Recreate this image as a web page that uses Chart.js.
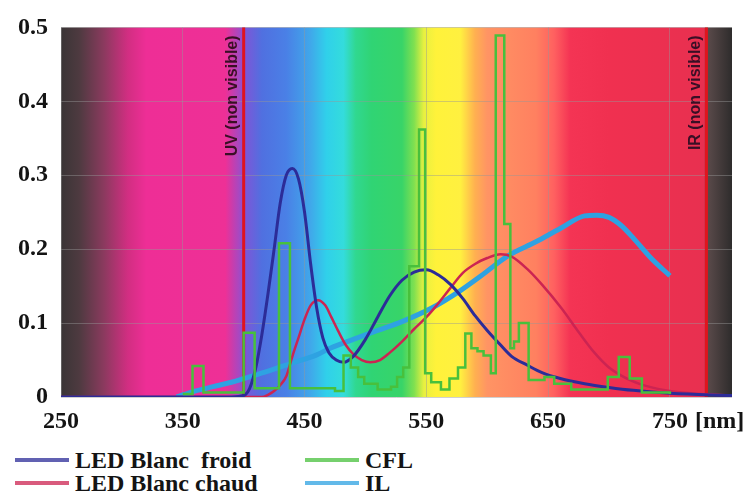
<!DOCTYPE html>
<html>
<head>
<meta charset="utf-8">
<script src="https://cdn.jsdelivr.net/npm/chart.js@4.4.1/dist/chart.umd.min.js"></script>
<style>
  body { margin: 0; background: #fff; width: 744px; height: 495px; overflow: hidden; position: relative; }
  #spectre { position: absolute; left: 0; top: 0; }
  .leg { position: absolute; display: flex; align-items: center; white-space: pre;
         font: bold 24px "Liberation Serif", serif; color: #141414; }
  .leg span.trait { display: inline-block; width: 54px; height: 4px; margin-right: 6px; opacity: 0.75; }
</style>
</head>
<body>
<canvas id="spectre" width="744" height="440"></canvas>
<div id="legende"></div>
<script>
// longueurs d'onde (nm) et intensites
const xTicks = [250, 350, 450, 550, 650, 750];
const yTicks = [0, 0.1, 0.2, 0.3, 0.4, 0.5];

const froidNm  = [250, 390, 400, 405, 410, 415, 420, 425, 430, 435, 440, 445, 450, 455, 460, 465, 470, 476, 482, 490, 500, 510, 520, 530, 540, 550, 560, 570, 580, 590, 600, 610, 620, 633, 645, 660, 680, 700, 720, 750, 801];
const froidVal = [0, 0, 0.002, 0.012, 0.04, 0.085, 0.14, 0.2, 0.262, 0.3, 0.309, 0.295, 0.25, 0.18, 0.12, 0.08, 0.06, 0.05, 0.047, 0.055, 0.078, 0.108, 0.137, 0.158, 0.169, 0.172, 0.165, 0.152, 0.133, 0.11, 0.09, 0.072, 0.055, 0.043, 0.033, 0.025, 0.018, 0.013, 0.009, 0.005, 0.002];

const chaudNm  = [250, 415, 420, 425, 430, 435, 440, 445, 450, 455, 461, 467, 472, 478, 484, 490, 497, 504, 512, 520, 530, 540, 550, 560, 570, 580, 590, 600, 611, 620, 633, 645, 661, 675, 688, 700, 716, 735, 760, 801];
const chaudVal = [0, 0, 0.003, 0.008, 0.016, 0.028, 0.055, 0.08, 0.105, 0.124, 0.131, 0.124, 0.108, 0.088, 0.07, 0.058, 0.05, 0.047, 0.05, 0.06, 0.075, 0.092, 0.108, 0.127, 0.148, 0.168, 0.18, 0.188, 0.193, 0.19, 0.173, 0.152, 0.12, 0.088, 0.06, 0.04, 0.024, 0.013, 0.006, 0.002];

const cflNm  = [350, 358, 367, 400, 409, 429, 438, 475, 482, 488, 494, 499, 510, 521, 526, 531, 536, 544, 549, 554, 562, 569, 576, 582, 587, 592, 597, 603, 607, 614, 619, 622, 626, 634, 647, 655, 669, 699, 708, 717, 727, 750];
const cflVal = [0.004, 0.042, 0.006, 0.087, 0.012, 0.208, 0.012, 0.008, 0.056, 0.04, 0.027, 0.018, 0.01, 0.014, 0.027, 0.04, 0.177, 0.362, 0.032, 0.02, 0.01, 0.025, 0.04, 0.086, 0.066, 0.062, 0.056, 0.032, 0.489, 0.234, 0.066, 0.075, 0.1, 0.023, 0.027, 0.018, 0.01, 0.027, 0.054, 0.025, 0.006, 0.004];

const ilNm  = [345, 360, 375, 390, 400, 420, 440, 460, 471, 490, 510, 530, 554, 578, 595, 617, 640, 660, 680, 690, 700, 710, 720, 735, 750];
const ilVal = [0, 0.008, 0.014, 0.02, 0.025, 0.035, 0.046, 0.057, 0.066, 0.078, 0.09, 0.102, 0.12, 0.144, 0.164, 0.191, 0.21, 0.228, 0.245, 0.246, 0.243, 0.232, 0.215, 0.187, 0.164];

const limites = [
    { nm: 400, texte: "UV (non visible)" },
    { nm: 780, texte: "IR (non visible)" }
];

// couleurs du fond (spectre visible)
const spectreStops = [
    [250, "#3a3536"], [265, "#4e3a40"], [285, "#8a3a5e"], [305, "#d22e82"], [320, "#ee2e96"],
    [385, "#ee3096"], [396, "#a848c0"], [402, "#7a58d8"], [415, "#5070e0"], [435, "#4a80e6"],
    [455, "#40a8ea"], [468, "#30d0ea"], [482, "#34dcdc"], [492, "#30d890"], [505, "#30d474"],
    [530, "#38d468"], [540, "#80e050"], [548, "#e8f040"], [558, "#fff23a"], [578, "#fff040"],
    [590, "#ffb050"], [600, "#ff9464"], [640, "#ff8060"], [655, "#ff6060"], [668, "#f43454"],
    [700, "#f03050"], [778, "#e83050"], [781, "#5a4a4a"], [801, "#2e2c2c"]
];

function points(nm, val) {
    return nm.map((n, i) => ({ x: n, y: val[i] }));
}

const fondSpectre = {
    id: "fondSpectre",
    beforeDraw(chart) {
        const { ctx, chartArea: a, scales } = chart;
        const g = ctx.createLinearGradient(a.left, 0, a.right, 0);
        spectreStops.forEach(([nm, c]) => {
            const t = (scales.x.getPixelForValue(nm) - a.left) / (a.right - a.left);
            g.addColorStop(Math.min(1, Math.max(0, t)), c);
        });
        ctx.save();
        ctx.fillStyle = g;
        ctx.fillRect(a.left, a.top, a.right - a.left, a.bottom - a.top);
        ctx.restore();
    }
};

const lignesLimites = {
    id: "lignesLimites",
    beforeDatasetsDraw(chart) {
        const { ctx, chartArea: a, scales } = chart;
        ctx.save();
        limites.forEach(l => {
            const px = scales.x.getPixelForValue(l.nm);
            ctx.strokeStyle = "#e0141e";
            ctx.lineWidth = 3;
            ctx.beginPath();
            ctx.moveTo(px, a.top);
            ctx.lineTo(px, a.bottom);
            ctx.stroke();

            ctx.save();
            ctx.translate(px - 11, a.top + 8);
            ctx.rotate(-Math.PI / 2);
            ctx.font = "bold 16px 'Liberation Sans', sans-serif";
            ctx.fillStyle = "#3a0f25";
            ctx.textAlign = "right";
            ctx.textBaseline = "middle";
            ctx.fillText(l.texte, 0, 0);
            ctx.restore();
        });
        ctx.restore();
    }
};

const uniteNm = {
    id: "uniteNm",
    afterDraw(chart) {
        const { ctx, chartArea: a, scales } = chart;
        ctx.save();
        ctx.font = "bold 24px 'Liberation Serif', serif";
        ctx.fillStyle = "#141414";
        ctx.textBaseline = "middle";
        ctx.textAlign = "left";
        const px = scales.x.getPixelForValue(xTicks[xTicks.length - 1]);
        const w = ctx.measureText(String(xTicks[xTicks.length - 1])).width;
        ctx.fillText("[nm]", px + w / 2 + 7, a.bottom + 25);
        ctx.restore();
    }
};

const chart = new Chart(document.getElementById("spectre"), {
    type: "line",
    data: {
        datasets: [
            {
                label: "IL",
                data: points(ilNm, ilVal),
                borderColor: "#2ea2e2",
                borderWidth: 5,
                cubicInterpolationMode: "monotone",
                order: 4
            },
            {
                label: "LED Blanc chaud",
                data: points(chaudNm, chaudVal),
                borderColor: "#cc2452",
                borderWidth: 2.5,
                cubicInterpolationMode: "monotone",
                order: 3
            },
            {
                label: "LED Blanc  froid",
                data: points(froidNm, froidVal),
                borderColor: "#2c2c98",
                borderWidth: 3,
                cubicInterpolationMode: "monotone",
                order: 2
            },
            {
                label: "CFL",
                data: points(cflNm, cflVal),
                borderColor: "#48c03c",
                borderWidth: 2.5,
                stepped: "before",
                order: 1
            }
        ]
    },
    options: {
        responsive: false,
        animation: false,
        layout: { padding: { left: 0, right: 12, top: 25, bottom: 0 } },
        elements: { point: { radius: 0 } },
        plugins: {
            legend: { display: false },
            tooltip: { enabled: false }
        },
        scales: {
            x: {
                type: "linear",
                min: 250,
                max: 801,
                afterBuildTicks: s => { s.ticks = xTicks.map(v => ({ value: v })); },
                afterFit: s => { s.height = 43; },
                grid: { color: "rgba(150,150,150,0.45)", drawTicks: false },
                border: { display: false },
                ticks: {
                    padding: 10,
                    color: "#141414",
                    font: { family: "Liberation Serif", size: 24, weight: "bold" }
                }
            },
            y: {
                min: 0,
                max: 0.5,
                afterBuildTicks: s => { s.ticks = yTicks.map(v => ({ value: v })); },
                afterFit: s => { s.width = 61; },
                grid: { color: "rgba(150,150,150,0.45)", drawTicks: false },
                border: { display: false },
                ticks: {
                    padding: 13,
                    color: "#141414",
                    font: { family: "Liberation Serif", size: 24, weight: "bold" },
                    callback: v => v === 0 ? "0" : v.toFixed(1)
                }
            }
        }
    },
    plugins: [fondSpectre, lignesLimites, uniteNm]
});

// legende sur deux colonnes, construite depuis les jeux de donnees
const placeLegende = {
    "LED Blanc  froid": [15, 460],
    "LED Blanc chaud": [15, 483],
    "CFL": [305, 460],
    "IL": [305, 483]
};

const legende = document.getElementById("legende");
chart.data.datasets.forEach(ds => {
    const pos = placeLegende[ds.label];
    const item = document.createElement("div");
    item.className = "leg";
    item.style.left = pos[0] + "px";
    item.style.top = (pos[1] - 14) + "px";
    item.style.height = "28px";
    item.innerHTML = `<span class="trait" style="background:${ds.borderColor}"></span>${ds.label}`;
    legende.appendChild(item);
});
</script>
</body>
</html>
